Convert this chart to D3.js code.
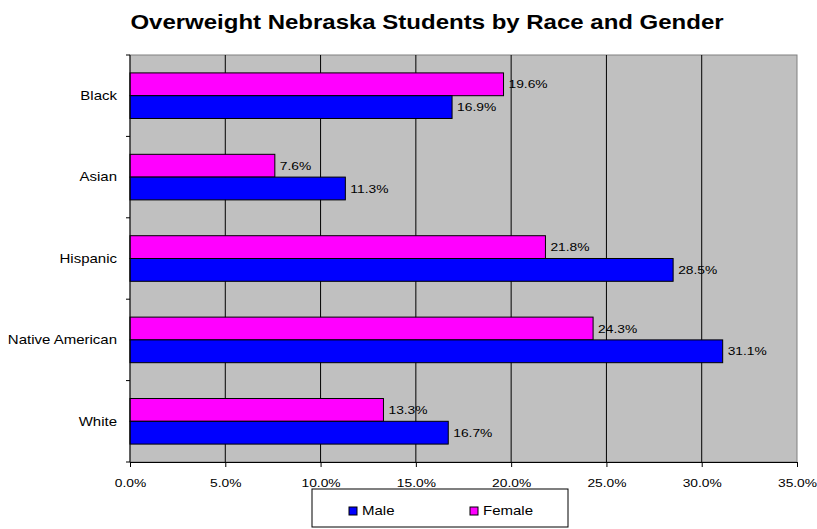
<!DOCTYPE html>
<html>
<head>
<meta charset="utf-8">
<script src="https://cdn.jsdelivr.net/npm/d3@7"></script>
<style>
  body { margin: 0; background: #fff; }
  svg { display: block; font-family: "Liberation Sans", Arial, sans-serif; }
</style>
</head>
<body>
<svg id="chart"></svg>
<script>
const races   = ["Black", "Asian", "Hispanic", "Native American", "White"];
const female  = [19.6, 7.6, 21.8, 24.3, 13.3];
const male    = [16.9, 11.3, 28.5, 31.1, 16.7];
const xTicks  = [0, 5, 10, 15, 20, 25, 30, 35];
const series  = [
  {key: "Female", values: female, color: "#ff00ff"},
  {key: "Male",   values: male,   color: "#0000ff"}
];

const width  = 817,
      height = 529,
      margin = {top: 55, right: 20, bottom: 67, left: 130},
      plotW  = 797 - margin.left,
      plotH  = 462 - margin.top,
      stretchX = 1.2,
      svg = d3.select("#chart").attr("width", width).attr("height", height);

// the original picture is stretched sideways, so text is widened about its anchor
function widen(sel, k = stretchX) {
  sel.each(function() {
    const t = d3.select(this);
    const tx = +t.attr("x") || 0, ty = +t.attr("y") || 0;
    t.attr("x", 0).attr("y", 0).attr("transform", `translate(${tx},${ty}) scale(${k},1)`);
  });
}

const x = d3.scaleLinear().domain([0, 35]).range([0, plotW]);
const y = d3.scaleBand().domain(races).range([0, plotH]).paddingInner(0.44).paddingOuter(0.22);
const ySub = d3.scaleBand().domain(series.map(s => s.key)).range([0, y.bandwidth()]);

svg.append("text")
  .attr("x", 427).attr("y", 29)
  .attr("text-anchor", "middle")
  .style("font-size", "20px").style("font-weight", "bold")
  .text("Overweight Nebraska Students by Race and Gender")
  .call(widen, 1.2);

const g = svg.append("g").attr("transform", `translate(${margin.left},${margin.top})`);

// plot background
g.append("rect")
  .attr("width", plotW).attr("height", plotH)
  .attr("fill", "#c0c0c0").attr("stroke", "#808080");

// vertical gridlines
g.selectAll(".grid")
  .data(xTicks.slice(1, -1))
  .join("line")
  .attr("x1", d => x(d)).attr("x2", d => x(d))
  .attr("y1", 0).attr("y2", plotH)
  .attr("stroke", "#000").attr("stroke-width", 1);

// bars
const groups = g.selectAll(".race")
  .data(races)
  .join("g")
  .attr("transform", d => `translate(0,${y(d)})`);

series.forEach(s => {
  groups.append("rect")
    .attr("x", 0)
    .attr("y", ySub(s.key))
    .attr("width", (d, i) => x(s.values[i]))
    .attr("height", ySub.bandwidth())
    .attr("fill", s.color)
    .attr("stroke", "#000").attr("stroke-width", 1);

  groups.append("text")
    .attr("x", (d, i) => x(s.values[i]) + 5)
    .attr("y", ySub(s.key) + ySub.bandwidth() / 2)
    .attr("dy", "0.35em")
    .style("font-size", "11.5px")
    .attr("fill", "#000")
    .text((d, i) => s.values[i].toFixed(1) + "%")
    .call(widen);
});

// x axis
const xAxis = g.append("g")
  .attr("transform", `translate(0,${plotH})`)
  .call(d3.axisBottom(x).tickValues(xTicks).tickFormat(d => d.toFixed(1) + "%").tickSize(5).tickSizeOuter(0));
xAxis.select(".domain").attr("stroke", "#000");
xAxis.selectAll("text")
  .style("font-size", "11.5px")
  .style("font-family", "Liberation Sans, Arial, sans-serif")
  .attr("y", 21).attr("dy", "0.35em")
  .call(widen);

// y axis: ticks at category boundaries
const bounds = d3.range(races.length + 1).map(i => i * plotH / races.length);
g.append("line").attr("x1", 0).attr("x2", 0).attr("y1", 0).attr("y2", plotH).attr("stroke", "#000");
g.selectAll(".ytick")
  .data(bounds)
  .join("line")
  .attr("x1", -4).attr("x2", 0)
  .attr("y1", d => d).attr("y2", d => d)
  .attr("stroke", "#000");
g.selectAll(".ylabel")
  .data(races)
  .join("text")
  .attr("x", -13)
  .attr("y", d => y(d) + y.bandwidth() / 2)
  .attr("dy", "0.35em")
  .attr("text-anchor", "end")
  .style("font-size", "12.5px")
  .text(d => d)
  .call(widen);

// legend
const legend = svg.append("g").attr("transform", "translate(312,489)");
legend.append("rect")
  .attr("width", 256).attr("height", 38)
  .attr("fill", "#fff").attr("stroke", "#000");
const legendItems = [series[1], series[0]];
legendItems.forEach((s, i) => {
  const lx = [37, 158][i];
  legend.append("rect")
    .attr("x", lx).attr("y", 18).attr("width", 8).attr("height", 8)
    .attr("fill", s.color).attr("stroke", "#000");
  legend.append("text")
    .attr("x", lx + 13).attr("y", 22)
    .attr("dy", "0.35em")
    .style("font-size", "12.5px")
    .text(s.key)
    .call(widen);
});
</script>
</body>
</html>
